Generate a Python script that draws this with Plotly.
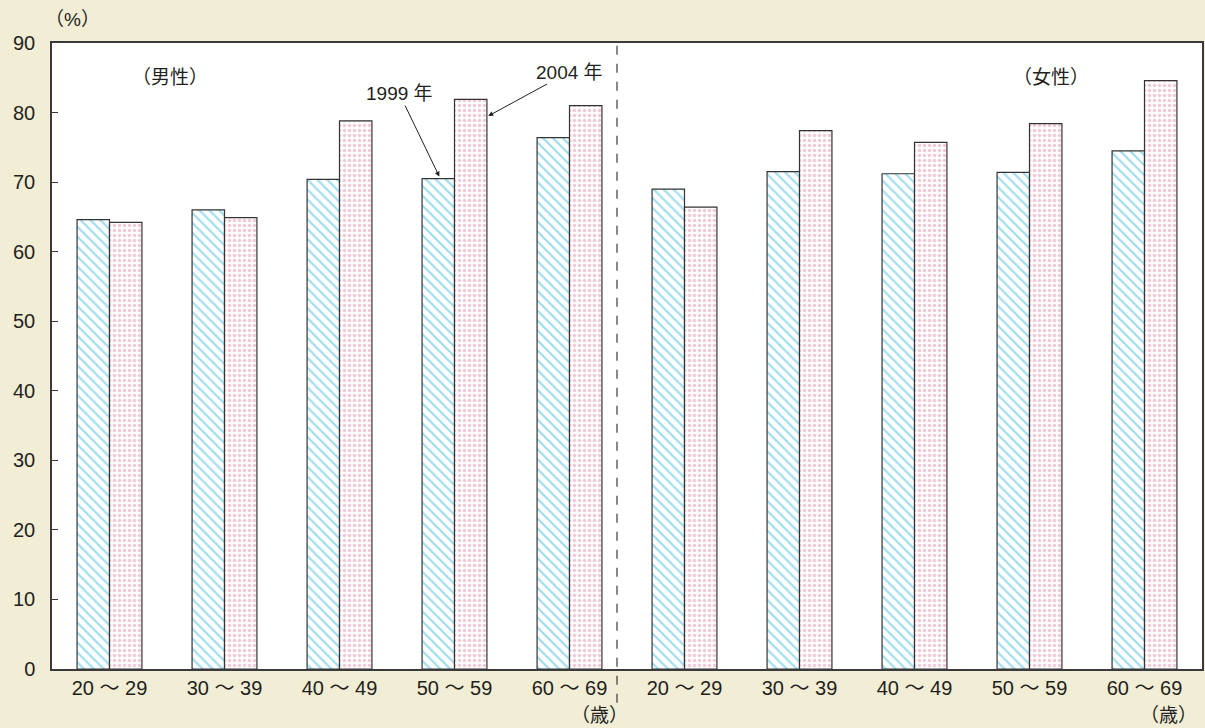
import plotly.graph_objects as go

categories = ["20 ～ 29", "30 ～ 39", "40 ～ 49", "50 ～ 59", "60 ～ 69",
              "20 ～ 29", "30 ～ 39", "40 ～ 49", "50 ～ 59", "60 ～ 69"]
y1999 = [64.6, 66.0, 70.4, 70.5, 76.4, 69.0, 71.5, 71.2, 71.4, 74.5]
y2004 = [64.2, 64.9, 78.8, 81.9, 81.0, 66.4, 77.4, 75.7, 78.4, 84.6]
yticks = [0, 10, 20, 30, 40, 50, 60, 70, 80, 90]

xpos = list(range(len(categories)))
FONT = "Liberation Sans, Arial, Noto Sans CJK JP"
TXT = "#231f20"

fig = go.Figure()
fig.add_trace(go.Bar(
    x=xpos, y=y1999, name="1999年",
    marker=dict(color="white", line=dict(color="#333333", width=1.2),
                pattern=dict(shape="\\", fgcolor="#3fbadd", bgcolor="white",
                             size=7, solidity=0.32)),
))
fig.add_trace(go.Bar(
    x=xpos, y=y2004, name="2004年",
    marker=dict(color="white", line=dict(color="#333333", width=1.2),
                pattern=dict(shape=".", fgcolor="#e493b2", bgcolor="white",
                             size=5, solidity=0.4)),
))

fig.update_layout(
    width=1205, height=728,
    margin=dict(l=52, r=1, t=43, b=59),
    paper_bgcolor="#f2edd5", plot_bgcolor="white",
    barmode="group", bargap=0.436, bargroupgap=0,
    showlegend=False,
    font=dict(family=FONT, size=19, color=TXT),
)
fig.update_xaxes(
    tickmode="array", tickvals=xpos, ticktext=categories,
    range=[-0.5, 9.5], showgrid=False, ticks="",
    showline=True, linecolor="#3a3a3a", linewidth=1.5, mirror=True,
    tickfont=dict(family=FONT, size=20, color=TXT),
)
fig.update_yaxes(
    range=[0, 90], tickmode="array", tickvals=yticks,
    showgrid=False, ticks="inside", ticklen=6, tickcolor="#3a3a3a",
    showline=True, linecolor="#3a3a3a", linewidth=1.5, mirror=True,
    tickfont=dict(family=FONT, size=20, color=TXT),
    ticklabelstandoff=11, zeroline=False,
)

# dashed separator between male and female groups
fig.add_shape(type="line", xref="x", yref="paper", x0=4.413, x1=4.413,
              y0=-0.054, y1=1, line=dict(color="#3a3a3a", width=1.2, dash="dash"))

ann_font = dict(family=FONT, size=19, color=TXT)
fig.add_annotation(x=0.524, y=85.1, xref="x", yref="y", text="（男性）",
                   showarrow=False, font=ann_font)
fig.add_annotation(x=8.19, y=85.1, xref="x", yref="y", text="（女性）",
                   showarrow=False, font=ann_font)
fig.add_annotation(x=2.868, y=70.8, xref="x", yref="y", text="1999 年",
                   showarrow=True, ax=-40, ay=-83, arrowhead=2, arrowsize=1,
                   arrowwidth=1, arrowcolor=TXT, font=ann_font)
fig.add_annotation(x=3.293, y=79.5, xref="x", yref="y", text="2004 年",
                   showarrow=True, ax=81, ay=-44, arrowhead=2, arrowsize=1,
                   arrowwidth=1, arrowcolor=TXT, font=ann_font)
fig.add_annotation(x=0.018, y=1.037, xref="paper", yref="paper", text="（%）",
                   xanchor="center", yanchor="middle", showarrow=False, font=ann_font)
fig.add_annotation(x=4.257, y=-0.075, xref="x", yref="paper", text="（歳）",
                   yanchor="middle", showarrow=False, font=ann_font)
fig.add_annotation(x=9.21, y=-0.075, xref="x", yref="paper", text="（歳）",
                   yanchor="middle", showarrow=False, font=ann_font)

fig.write_html("out.html", config={"displayModeBar": False},
               post_script="document.body.style.margin='0';"
                           "document.body.style.overflow='hidden';")
